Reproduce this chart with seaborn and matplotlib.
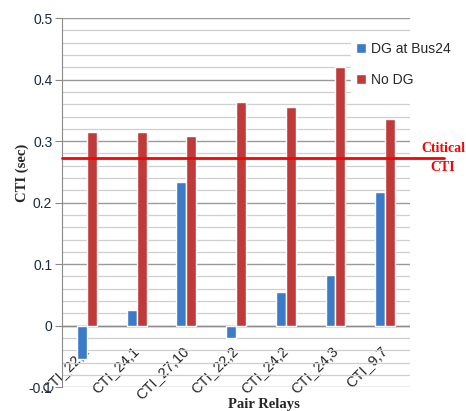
import numpy as np
import pandas as pd
import matplotlib
matplotlib.use("Agg")
import matplotlib.pyplot as plt
import seaborn as sns
from matplotlib.ticker import MultipleLocator

# data
relays = ["CTI_22,1", "CTI_24,1", "CTI_27,10", "CTI_22,2", "CTI_24,2", "CTI_24,3", "CTI_9,7"]
dg_bus24 = [-0.054, 0.025, 0.234, -0.020, 0.055, 0.082, 0.218]
no_dg = [0.315, 0.315, 0.309, 0.363, 0.355, 0.420, 0.336]
series = ["DG at Bus24", "No DG"]
critical_cti = 0.272

df = pd.DataFrame({
    "relay": relays * 2,
    "cti": dg_bus24 + no_dg,
    "case": [series[0]] * len(relays) + [series[1]] * len(relays),
})

sns.set_style("white")
plt.rcParams["font.family"] = ["Liberation Sans", "DejaVu Sans"]

fig = plt.figure(figsize=(4.66, 4.11), dpi=100)
ax = fig.add_axes([0.133, 0.058, 0.747, 0.898])

palette = {"DG at Bus24": "#3b7bc8", "No DG": "#c13a3a"}
sns.barplot(data=df, x="relay", y="cti", hue="case", palette=palette,
            width=0.4, gap=0, saturation=1, ax=ax, zorder=3)

ax.set_ylim(-0.1, 0.5)
ax.set_xlim(-0.5, len(relays) - 0.5)
ax.yaxis.set_major_locator(MultipleLocator(0.1))
ax.yaxis.set_minor_locator(MultipleLocator(0.02))
ax.grid(which="minor", axis="y", color="#cfcfcf", linewidth=0.9, zorder=0)
ax.grid(which="major", axis="y", color="#9a9a9a", linewidth=1.0, zorder=0)
ax.axhline(0, color="#8a8a8a", linewidth=1.0, zorder=2)
ax.set_yticks([-0.1, 0, 0.1, 0.2, 0.3, 0.4, 0.5])
ax.set_yticklabels(["-0.1", "0", "0.1", "0.2", "0.3", "0.4", "0.5"])

for s in ["top", "right", "bottom"]:
    ax.spines[s].set_visible(False)
ax.spines["left"].set_color("#8a8a8a")

ax.tick_params(axis="y", which="major", length=5, color="#8a8a8a",
               labelsize=10, labelcolor="#1a2a40", left=True, pad=2)
ax.tick_params(axis="y", which="minor", length=0)
ax.tick_params(axis="x", length=0, labelsize=10.5, pad=-28)
for lab in ax.get_xticklabels():
    lab.set_rotation(45)
    lab.set_ha("right")
    lab.set_va("center")
    lab.set_rotation_mode("anchor")

ax.set_xlabel("Pair Relays", fontfamily="Liberation Serif", fontweight="bold",
              fontsize=10.5)
ax.xaxis.set_label_coords(0.58, -0.03)
ax.set_ylabel("CTI (sec)", fontfamily="Liberation Serif", fontweight="bold",
              fontsize=10.5)
ax.yaxis.set_label_coords(-0.095, 0.58)

# critical CTI line, runs a bit past the plot area
ax.plot([-0.5, 7.18], [critical_cti, critical_cti], color="#ff0000",
        linewidth=2, clip_on=False, zorder=4)
ax.text(1.095, critical_cti, "Ctitical\nCTI", transform=ax.get_yaxis_transform(),
        color="#ff0000", fontfamily="Liberation Serif", fontweight="bold",
        fontsize=10, ha="center", va="center", linespacing=1.6)

leg = ax.legend(loc="upper left", bbox_to_anchor=(0.81, 0.97), frameon=True,
                fancybox=False, edgecolor="white", facecolor="white",
                framealpha=1, fontsize=10, labelspacing=1.25,
                handlelength=0.7, handleheight=0.7, handletextpad=0.35,
                borderpad=0.4, title=None)
leg.set_zorder(5)

fig.savefig("out.png", dpi=100, facecolor="white")
